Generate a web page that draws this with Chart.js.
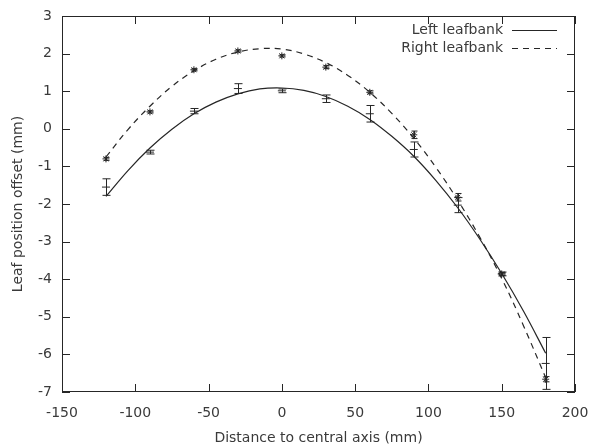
<!DOCTYPE html>
<html><head><meta charset="utf-8">
<script src="https://cdn.jsdelivr.net/npm/chart.js@4.4.1/dist/chart.umd.min.js"></script>
<style>html,body{margin:0;padding:0;background:#fff;}canvas{display:block;}</style>
</head><body>
<canvas id="c" width="593" height="447"></canvas>
<script>
// Measured leaf offsets
const xPositions = [-120, -90, -60, -30, 0, 30, 60, 90, 120, 150, 180];
const leftValues = [-1.55, -0.62, 0.47, 1.07, 1.01, 0.80, 0.40, -0.55, -2.03, -3.86, -6.24];
const leftErrors = [0.22, 0.05, 0.07, 0.13, 0.05, 0.10, 0.22, 0.20, 0.20, 0.05, 0.69];
const rightValues = [-0.80, 0.45, 1.57, 2.07, 1.94, 1.64, 0.97, -0.16, -1.82, -3.86, -6.66];
const rightErrors = [0.04, 0.03, 0.03, 0.03, 0.03, 0.04, 0.04, 0.10, 0.10, 0.04, 0.07];
// Fitted curves
const fitX = [-120, -105, -90, -75, -60, -45, -30, -15, 0, 15, 30, 45, 60, 75, 90, 105, 120, 135, 150, 165, 180];
const leftFit = [-1.80, -1.11, -0.51, -0.01, 0.40, 0.71, 0.93, 1.06, 1.085, 1.02, 0.86, 0.60, 0.25, -0.20, -0.73, -1.37, -2.10, -2.93, -3.85, -4.86, -5.97];
const rightFit = [-0.75, -0.02, 0.60, 1.13, 1.54, 1.85, 2.04, 2.13, 2.12, 1.99, 1.76, 1.42, 0.97, 0.41, -0.25, -1.02, -1.90, -2.88, -3.98, -5.25, -6.62];
const seriesLabels = ['Left leafbank', 'Right leafbank'];
const xTitle = 'Distance to central axis (mm)';
const yTitle = 'Leaf position offset (mm)';

const INK = '#262626';
const TEXT = '#3a3a3a';
const FONT = 'DejaVu Sans';
const pts = (xs, ys) => xs.map((v, i) => ({x: v, y: ys[i]}));

const gnuplotFrame = {
  id: 'gnuplotFrame',
  afterDatasetsDraw(chart) {
    const {ctx, chartArea: a, scales: {x, y}} = chart;
    ctx.save();
    ctx.strokeStyle = INK;
    ctx.lineWidth = 1;
    chart.data.datasets.forEach(ds => {
      if (!ds.errors) return;
      ds.data.forEach((p, j) => {
        const px = Math.round(x.getPixelForValue(p.x)) + 0.5;
        const top = y.getPixelForValue(p.y + ds.errors[j]);
        const bot = y.getPixelForValue(p.y - ds.errors[j]);
        const c = ds.capHalf;
        ctx.beginPath();
        ctx.moveTo(px, top); ctx.lineTo(px, bot);
        ctx.moveTo(px - c, top); ctx.lineTo(px + c, top);
        ctx.moveTo(px - c, bot); ctx.lineTo(px + c, bot);
        ctx.stroke();
      });
    });
    // frame
    ctx.strokeRect(a.left + 0.5, a.top + 0.5, a.right - a.left - 1, a.bottom - a.top - 1);
    // inward ticks on all four sides
    const L = 8;
    ctx.beginPath();
    x.ticks.forEach(t => {
      const px = Math.round(x.getPixelForValue(t.value)) + 0.5;
      ctx.moveTo(px, a.bottom); ctx.lineTo(px, a.bottom - L);
      ctx.moveTo(px, a.top); ctx.lineTo(px, a.top + L);
    });
    y.ticks.forEach(t => {
      const py = Math.round(y.getPixelForValue(t.value)) + 0.5;
      ctx.moveTo(a.left, py); ctx.lineTo(a.left + L, py);
      ctx.moveTo(a.right, py); ctx.lineTo(a.right - L, py);
    });
    ctx.stroke();
    // legend (text then line sample, gnuplot style)
    ctx.font = '14px "' + FONT + '"';
    ctx.fillStyle = TEXT;
    ctx.textAlign = 'right';
    ctx.textBaseline = 'middle';
    const fits = chart.data.datasets.filter(ds => ds.isFit);
    fits.forEach((ds, i) => {
      const ly = a.top + 14 + i * 18;
      ctx.fillText(ds.label, a.right - 72, ly);
      ctx.setLineDash(ds.borderDash || []);
      ctx.lineWidth = ds.borderWidth;
      ctx.beginPath();
      ctx.moveTo(a.right - 63, Math.round(ly) + 0.5);
      ctx.lineTo(a.right - 18, Math.round(ly) + 0.5);
      ctx.stroke();
    });
    ctx.restore();
  }
};

new Chart(document.getElementById('c'), {
  type: 'scatter',
  data: {
    datasets: [
      {label: seriesLabels[0], isFit: true, data: pts(fitX, leftFit), showLine: true, pointRadius: 0,
       borderColor: INK, borderWidth: 1.2, tension: 0.4},
      {label: seriesLabels[1], isFit: true, data: pts(fitX, rightFit), showLine: true, pointRadius: 0,
       borderColor: INK, borderWidth: 1.2, borderDash: [6, 5], tension: 0.4},
      {label: seriesLabels[0] + ' data', data: pts(xPositions, leftValues), errors: leftErrors, capHalf: 4,
       pointStyle: 'line', pointRadius: 4, borderWidth: 1, borderColor: INK, backgroundColor: INK},
      {label: seriesLabels[1] + ' data', data: pts(xPositions, rightValues), errors: rightErrors, capHalf: 3,
       pointStyle: 'star', pointRadius: 3.5, borderWidth: 1, borderColor: INK, backgroundColor: INK}
    ]
  },
  options: {
    responsive: false,
    animation: false,
    events: [],
    layout: {padding: {left: 0, top: 16, right: 18, bottom: 0}},
    plugins: {legend: {display: false}, tooltip: {enabled: false}},
    scales: {
      x: {
        type: 'linear', min: -150, max: 200,
        afterFit(s) { s.height = 55; s.paddingLeft = 0; s.paddingRight = 0; },
        ticks: {stepSize: 50, color: TEXT, font: {family: FONT, size: 14}, padding: 13, maxRotation: 0},
        grid: {display: false, drawTicks: false},
        border: {display: false},
        title: {display: true, text: xTitle, color: TEXT, font: {family: FONT, size: 14}, padding: {top: 0, bottom: 0}}
      },
      y: {
        type: 'linear', min: -7, max: 3,
        afterFit(s) { s.width = 62; s.paddingTop = 0; s.paddingBottom = 0; },
        ticks: {stepSize: 1, color: TEXT, font: {family: FONT, size: 14}, padding: 10},
        grid: {display: false, drawTicks: false},
        border: {display: false},
        title: {display: true, text: yTitle, color: TEXT, font: {family: FONT, size: 14}, padding: {top: 10, bottom: 0}}
      }
    }
  },
  plugins: [gnuplotFrame]
});
</script>
</body></html>
